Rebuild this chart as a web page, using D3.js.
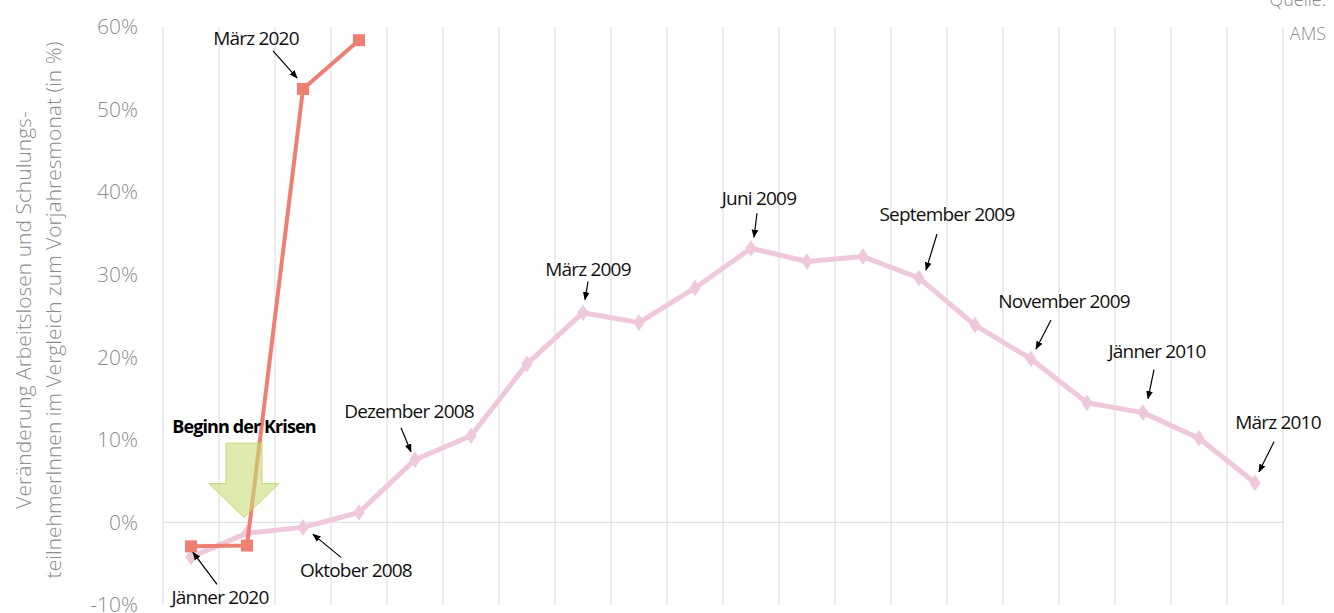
<!DOCTYPE html>
<html>
<head>
<meta charset="utf-8">
<script src="https://cdn.jsdelivr.net/npm/d3@7"></script>
<style>
  body { margin: 0; background: #fff; }
  svg { display: block; font-family: "Open Sans", Lato, sans-serif; }
</style>
</head>
<body>
<div id="chart"></div>
<script>
// months of the 2008-2010 crisis (one per band)
const months = ["Aug 2008", "Sep 2008", "Okt 2008", "Nov 2008", "Dez 2008", "Jän 2009", "Feb 2009",
  "Mär 2009", "Apr 2009", "Mai 2009", "Jun 2009", "Jul 2009", "Aug 2009", "Sep 2009", "Okt 2009",
  "Nov 2009", "Dez 2009", "Jän 2010", "Feb 2010", "Mär 2010"];
const crisis2008 = [-4.2, -1.3, -0.6, 1.2, 7.6, 10.5, 19.2, 25.4, 24.2, 28.4, 33.2, 31.6, 32.2, 29.6,
  23.9, 19.8, 14.5, 13.3, 10.2, 4.8];
const crisis2020 = [-2.9, -2.8, 52.5, 58.4];
const yTicks = [-10, 0, 10, 20, 30, 40, 50, 60];

// annotations: index into series, label, label offset, arrow start/end offsets (relative to point)
const notes = [
  { series: "r", i: 2, text: "März 2020", dx: -47, dy: -44, a: [-30, -38, -6, -11] },
  { series: "r", i: 0, text: "Jänner 2020", dx: 29, dy: 58, a: [26, 38, 2, 6] },
  { series: "p", i: 2, text: "Oktober 2008", dx: 53, dy: 50, a: [38, 30, 10, 7] },
  { series: "p", i: 4, text: "Dezember 2008", dx: -6, dy: -42, a: [-14, -32, -4, -8] },
  { series: "p", i: 7, text: "März 2009", dx: 5, dy: -37, a: [5, -31, 2, -13] },
  { series: "p", i: 10, text: "Juni 2009", dx: 8, dy: -43, a: [6, -35, 3, -11] },
  { series: "p", i: 13, text: "September 2009", dx: 28, dy: -57, a: [18, -44, 7, -8] },
  { series: "p", i: 15, text: "November 2009", dx: 33, dy: -51, a: [20, -39, 5, -10] },
  { series: "p", i: 17, text: "Jänner 2010", dx: 14, dy: -55, a: [11, -43, 5, -14] },
  { series: "p", i: 19, text: "März 2010", dx: 23, dy: -54, a: [19, -41, 4, -11] }
];

const width = 1334, height = 613;
const margin = { left: 163, right: 51, top: 27, bottom: 7 };
const font = '"Open Sans", Lato, sans-serif';

const svg = d3.select("#chart").append("svg")
  .attr("width", width)
  .attr("height", height);

const defs = svg.append("defs");
defs.append("marker")
  .attr("id", "arrow")
  .attr("viewBox", "0 0 10 10")
  .attr("refX", 9).attr("refY", 5)
  .attr("markerWidth", 7).attr("markerHeight", 7)
  .attr("orient", "auto")
  .append("path")
  .attr("d", "M0,1 L10,5 L0,9 Z")
  .attr("fill", "#000");

const x = d3.scaleBand()
  .domain(d3.range(months.length))
  .range([margin.left, width - margin.right]);

const y = d3.scaleLinear()
  .domain([-10, 60])
  .range([height - margin.bottom - 1, margin.top]);

const cx = i => x(i) + x.bandwidth() / 2;

// vertical grid lines at band boundaries
const bounds = d3.range(months.length + 1).map(i => margin.left + i * x.bandwidth());
svg.append("g").selectAll("line")
  .data(bounds)
  .enter().append("line")
  .attr("x1", d => d).attr("x2", d => d)
  .attr("y1", y(60)).attr("y2", y(-10))
  .style("stroke", "#e2e2e2")
  .style("stroke-width", 1.3);

// zero line
svg.append("line")
  .attr("x1", margin.left).attr("x2", width - margin.right)
  .attr("y1", y(0)).attr("y2", y(0))
  .style("stroke", "#e2e2e2")
  .style("stroke-width", 1.3);

// y axis
const yAxis = svg.append("g")
  .attr("transform", `translate(${margin.left - 22},0)`)
  .call(d3.axisLeft(y).tickValues(yTicks).tickSize(0).tickFormat(d => d + "%"));
yAxis.attr("font-family", null);
yAxis.select(".domain").remove();
yAxis.selectAll("text")
  .style("font-family", font)
  .style("font-size", "21px")
  .style("font-weight", 300)
  .style("fill", "#8c8c8c");

// y axis title
const title = svg.append("text")
  .attr("transform", `translate(0,310) rotate(-90)`)
  .attr("text-anchor", "middle")
  .style("font-size", "21px")
  .style("font-weight", 300)
  .style("fill", "#8c8c8c");
title.append("tspan").attr("x", 0).attr("y", 31).text("Veränderung Arbeitslosen und Schulungs-");
title.append("tspan").attr("x", 0).attr("y", 61).text("teilnehmerInnen im Vergleich zum Vorjahresmonat (in %)");

// source
svg.append("text").attr("x", 1326).attr("y", 6).attr("text-anchor", "end")
  .style("font-size", "18px").style("font-weight", 300).style("fill", "#8c8c8c").text("Quelle:");
svg.append("text").attr("x", 1326).attr("y", 40).attr("text-anchor", "end")
  .style("font-size", "18px").style("font-weight", 300).style("fill", "#8c8c8c").text("AMS");

const line = d3.line().x((d, i) => cx(i)).y(d => y(d));

// 2008 crisis (pink)
svg.append("path")
  .datum(crisis2008)
  .attr("d", line)
  .style("fill", "none")
  .style("stroke", "#f0c8dc")
  .style("stroke-width", 5)
  .style("stroke-linejoin", "round");
svg.append("g").selectAll("path")
  .data(crisis2008)
  .enter().append("path")
  .attr("d", d3.symbol(d3.symbolDiamond, 110))
  .attr("transform", (d, i) => `translate(${cx(i)},${y(d)}) scale(1,0.85)`)
  .style("fill", "#f0c8dc");

// 2020 crisis (red)
svg.append("path")
  .datum(crisis2020)
  .attr("d", line)
  .style("fill", "none")
  .style("stroke", "#ef7f72")
  .style("stroke-width", 4)
  .style("stroke-linejoin", "round");
svg.append("g").selectAll("rect")
  .data(crisis2020)
  .enter().append("rect")
  .attr("x", (d, i) => cx(i) - 6).attr("y", d => y(d) - 6)
  .attr("width", 12).attr("height", 12)
  .style("fill", "#ef7f72");

// green "Beginn der Krisen" arrow, on top of the lines
const ax = cx(1) - 3;
svg.append("path")
  .attr("d", `M${ax - 18},${y(9.6)} L${ax + 18},${y(9.6)} L${ax + 18},${y(4.7)} L${ax + 35},${y(4.7)}
    L${ax},${y(0.6)} L${ax - 35},${y(4.7)} L${ax - 18},${y(4.7)} Z`)
  .style("fill", "#c8dc78")
  .style("fill-opacity", 0.6)
  .style("stroke", "#b8d060")
  .style("stroke-width", 0.8);
svg.append("text")
  .attr("x", ax).attr("y", y(10.8))
  .attr("text-anchor", "middle")
  .style("font-size", "18px").style("font-weight", 700).style("letter-spacing", "-0.9px")
  .text("Beginn der Krisen");

// annotations
const ann = svg.append("g");
notes.forEach(n => {
  const v = n.series === "r" ? crisis2020[n.i] : crisis2008[n.i];
  const px = cx(n.i), py = y(v);
  ann.append("line")
    .attr("x1", px + n.a[0]).attr("y1", py + n.a[1])
    .attr("x2", px + n.a[2]).attr("y2", py + n.a[3])
    .style("stroke", "#000")
    .style("stroke-width", 1.2)
    .attr("marker-end", "url(#arrow)");
  ann.append("text")
    .attr("x", px + n.dx).attr("y", py + n.dy)
    .attr("text-anchor", "middle")
    .style("font-size", "19px")
    .style("font-weight", 500)
    .style("letter-spacing", "-0.8px")
    .style("fill", "#111")
    .text(n.text);
});
</script>
</body>
</html>
